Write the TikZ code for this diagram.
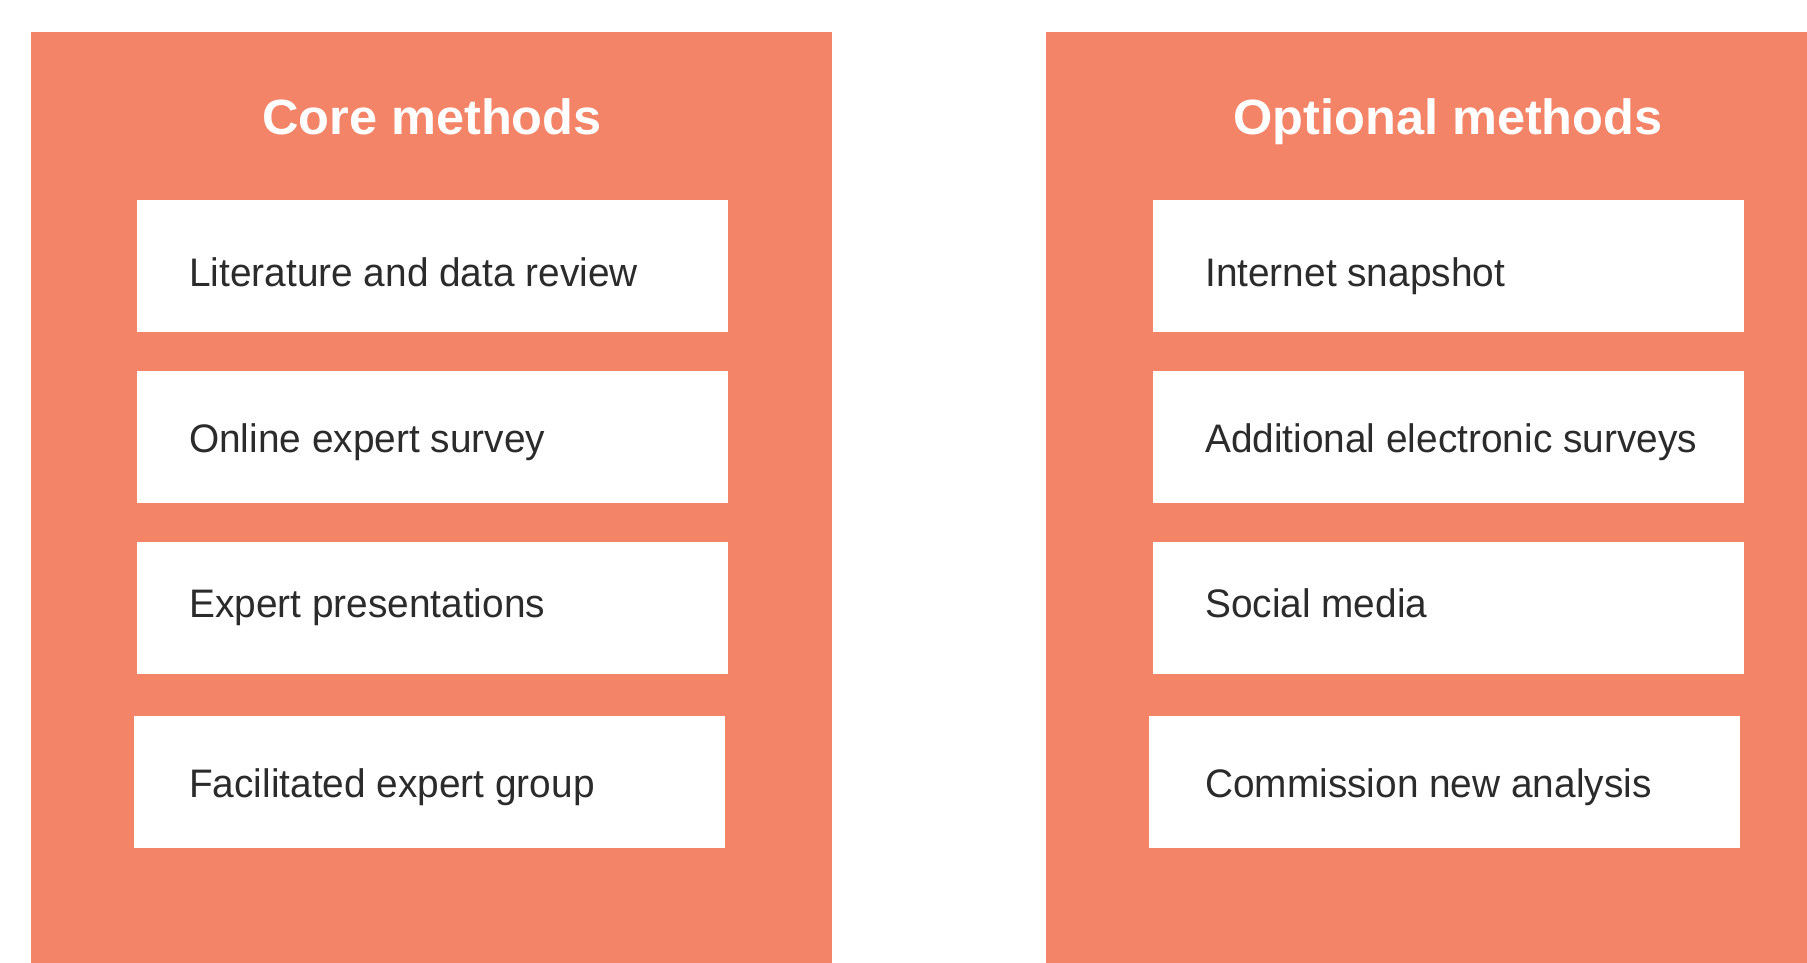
\documentclass[tikz,border=0pt]{standalone}
\usepackage{fontspec}
\setmainfont{Liberation Sans}
\newfontfamily\bodyfont[FakeStretch=0.975]{Liberation Sans}
\newfontfamily\headfont[FakeStretch=1.02]{Liberation Sans}
\definecolor{panelc}{HTML}{F48468}
\definecolor{textc}{HTML}{2B2B2B}
\tikzset{
  panel/.style={fill=panelc, draw=none},
  methodbox/.style={fill=white, draw=none, inner sep=0pt, minimum width=591pt, minimum height=132pt, anchor=north west},
  boxtext/.style={text=textc, font=\bodyfont\fontsize{39.8}{44}\selectfont, inner sep=0pt, anchor=base west},
  titletext/.style={text=white, font=\headfont\fontsize{49.5}{56}\selectfont\bfseries, inner sep=0pt, anchor=base}
}
\begin{document}
\begin{tikzpicture}[x=1pt,y=-1pt]
\useasboundingbox (0,0) rectangle (1807,963);
\fill[white] (0,0) rectangle (1807,963);
\fill[panel] (31,32) rectangle (832,963);
\fill[panel] (1046,32) rectangle (1807,963);
\node[titletext] (t1) at (432,134.5) {Core methods};
\node[titletext] (t2) at (1448,134.5) {Optional methods};
% core boxes
\node[methodbox] (c1) at (137,200) {};
\node[methodbox] (c2) at (137,371) {};
\node[methodbox] (c3) at (137,542) {};
\node[methodbox] (c4) at (134,716) {};
% optional boxes
\node[methodbox] (o1) at (1153,200) {};
\node[methodbox] (o2) at (1153,371) {};
\node[methodbox] (o3) at (1153,542) {};
\node[methodbox] (o4) at (1149,716) {};
% texts
\node[boxtext] (c1t) at ([xshift=52pt,yshift=-20pt]c1.west) {Literature and data review};
\node[boxtext] (c2t) at ([xshift=52pt,yshift=-15.5pt]c2.west) {Online expert survey};
\node[boxtext] (c3t) at ([xshift=52pt,yshift=-9.5pt]c3.west) {Expert presentations};
\node[boxtext] (c4t) at ([xshift=55pt,yshift=-15pt]c4.west) {Facilitated expert group};
\node[boxtext] (o1t) at ([xshift=52pt,yshift=-20pt]o1.west) {Internet snapshot};
\node[boxtext] (o2t) at ([xshift=52pt,yshift=-15.5pt]o2.west) {Additional electronic surveys};
\node[boxtext] (o3t) at ([xshift=52pt,yshift=-9.5pt]o3.west) {Social media};
\node[boxtext] (o4t) at ([xshift=56pt,yshift=-15pt]o4.west) {Commission new analysis};
\end{tikzpicture}
\end{document}
